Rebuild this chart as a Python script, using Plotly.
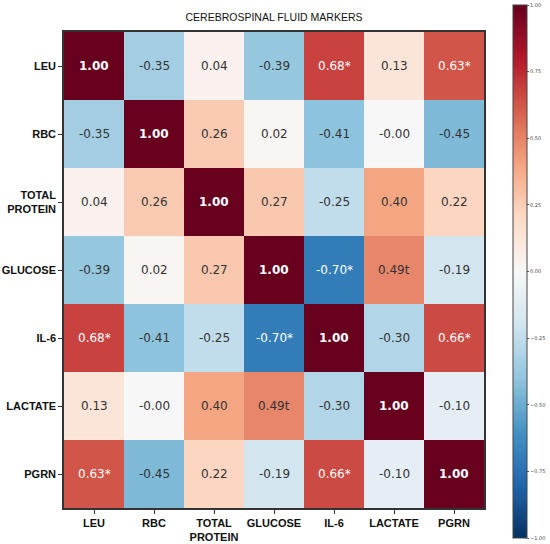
import plotly.graph_objects as go

markers = ["LEU", "RBC", "TOTAL PROTEIN", "GLUCOSE", "IL-6", "LACTATE", "PGRN"]
tick_labels = ["LEU", "RBC", "TOTAL<br>PROTEIN", "GLUCOSE", "IL-6", "LACTATE", "PGRN"]

corr = [
    [1.00, -0.35, 0.04, -0.39, 0.68, 0.13, 0.63],
    [-0.35, 1.00, 0.26, 0.02, -0.41, -0.00, -0.45],
    [0.04, 0.26, 1.00, 0.27, -0.25, 0.40, 0.22],
    [-0.39, 0.02, 0.27, 1.00, -0.70, 0.49, -0.19],
    [0.68, -0.41, -0.25, -0.70, 1.00, -0.30, 0.66],
    [0.13, -0.00, 0.40, 0.49, -0.30, 1.00, -0.10],
    [0.63, -0.45, 0.22, -0.19, 0.66, -0.10, 1.00],
]

# significance marks: "*" significant, "t" trend
sig = [
    ["", "", "", "", "*", "", "*"],
    ["", "", "", "", "", "", ""],
    ["", "", "", "", "", "", ""],
    ["", "", "", "", "*", "t", ""],
    ["*", "", "", "*", "", "", "*"],
    ["", "", "", "t", "", "", ""],
    ["*", "", "", "", "*", "", ""],
]

cbar_ticks = [-1.0, -0.75, -0.5, -0.25, 0.0, 0.25, 0.5, 0.75, 1.0]

# matplotlib RdBu_r (ColorBrewer 11)
rdbu_r = ["rgb(5,48,97)", "rgb(33,102,172)", "rgb(67,147,195)", "rgb(146,197,222)",
          "rgb(209,229,240)", "rgb(247,247,247)", "rgb(253,219,199)", "rgb(244,165,130)",
          "rgb(214,96,77)", "rgb(178,24,43)", "rgb(103,0,31)"]
colorscale = [[i / 10, c] for i, c in enumerate(rdbu_r)]

W, H = 550, 544
L, R, T, B = 64, 66, 32, 36
plot_h = H - T - B

fig = go.Figure(go.Heatmap(
    z=corr, x=markers, y=markers,
    zmin=-1, zmax=1, colorscale=colorscale,
    xgap=0, ygap=0,
    colorbar=dict(
        thickness=14, lenmode="fraction", len=533 / plot_h,
        x=513 / W, xanchor="left", xref="container",
        y=(H - B - 271.5) / plot_h, yanchor="middle", yref="paper",
        xpad=0, ypad=0,
        tickvals=cbar_ticks, tickformat=".2f",
        ticks="outside", ticklen=2, tickcolor="#555",
        tickfont=dict(size=5, color="#444", family="DejaVu Sans"),
        outlinecolor="#444", outlinewidth=1,
    ),
    hoverinfo="skip",
))

annotations = []
for i, row in enumerate(corr):
    for j, v in enumerate(row):
        txt = f"{v:.2f}" + sig[i][j]
        if i == j:
            txt = "<b>" + txt + "</b>"
        color = "white" if abs(v) >= 0.6 else "#333333"
        annotations.append(dict(
            x=markers[j], y=markers[i], text=txt, showarrow=False,
            font=dict(size=12, color=color, family="DejaVu Sans"),
        ))

fig.update_layout(
    width=W, height=H,
    margin=dict(l=L, r=R, t=T, b=B, autoexpand=False),
    paper_bgcolor="white", plot_bgcolor="white",
    title=dict(text="CEREBROSPINAL FLUID MARKERS", x=274 / W, xanchor="center",
               y=1 - 17 / H, yanchor="middle",
               font=dict(size=10.5, color="#111", family="Liberation Sans")),
    annotations=annotations,
)
fig.update_xaxes(
    tickvals=markers, ticktext=tick_labels, ticks="outside", ticklen=4,
    tickcolor="#333", showline=True, linecolor="#333", linewidth=1.5, mirror=True,
    tickfont=dict(size=11, color="#111", family="Liberation Sans", weight="bold"),
)
fig.update_yaxes(
    tickvals=markers, ticktext=tick_labels, ticks="outside", ticklen=4,
    tickcolor="#333", showline=True, linecolor="#333", linewidth=1.5, mirror=True,
    autorange="reversed",
    tickfont=dict(size=11, color="#111", family="Liberation Sans", weight="bold"),
)

# drop the default 8px body margin so the figure fills the window
fig.write_html("out.html", config={"displayModeBar": False},
               post_script="document.body.style.margin='0';")
